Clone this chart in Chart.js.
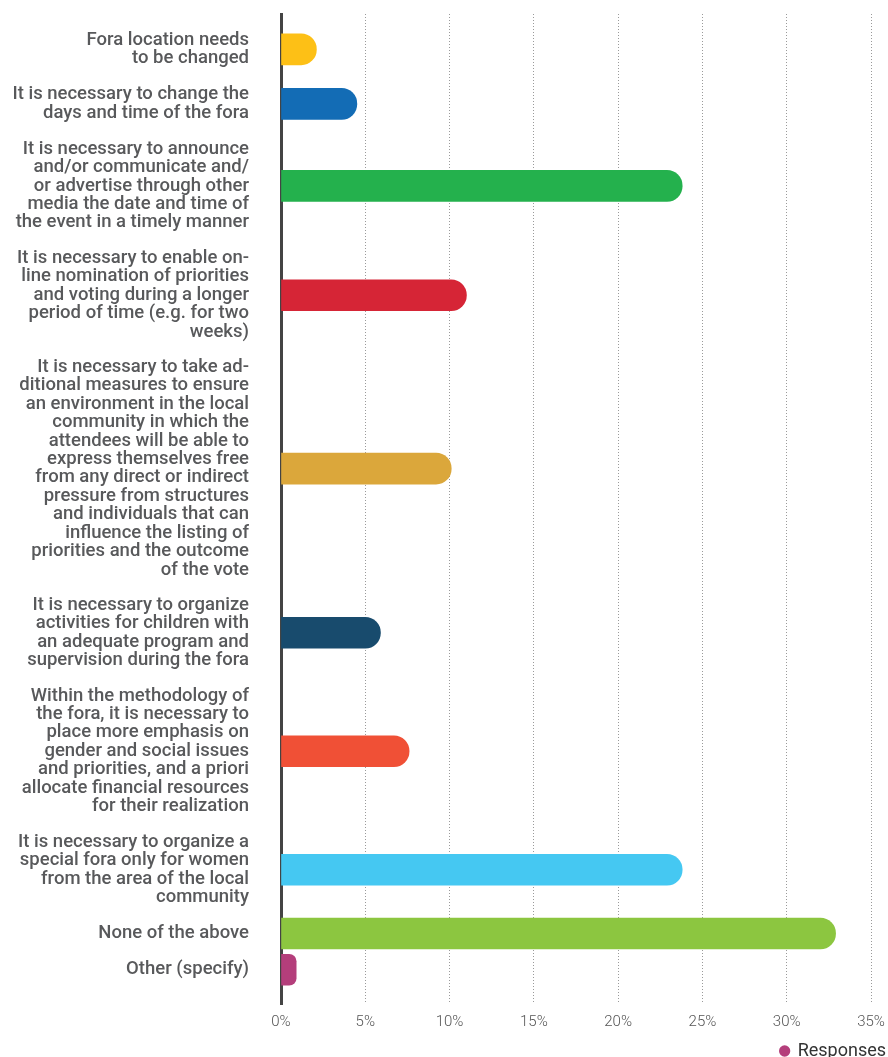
<!DOCTYPE html>
<html>
<head>
<meta charset="utf-8">
<script src="https://cdn.jsdelivr.net/npm/chart.js@4/dist/chart.umd.min.js"></script>
<style>
  html, body { margin: 0; padding: 0; background: #fff; overflow: hidden; }
  #wrap { position: relative; width: 888px; height: 1070px; }
</style>
</head>
<body>
<div id="wrap"><canvas id="c"></canvas></div>
<script>
// Answer options, one array entry per printed line
const categories = [
  ["Fora location needs", "to be changed"],
  ["It is necessary to change the", "days and time of the fora"],
  ["It is necessary to announce", "and/or communicate and/", "or advertise through other", "media the date and time of", "the event in a timely manner"],
  ["It is necessary to enable on-", "line nomination of priorities", "and voting during a longer", "period of time (e.g. for two", "weeks)"],
  ["It is necessary to take ad-", "ditional measures to ensure", "an environment in the local", "community in which the", "attendees will be able to", "express themselves free", "from any direct or indirect", "pressure from structures", "and individuals that can", "influence the listing of", "priorities and the outcome", "of the vote"],
  ["It is necessary to organize", "activities for children with", "an adequate program and", "supervision during the fora"],
  ["Within the methodology of", "the fora, it is necessary to", "place more emphasis on", "gender and social issues", "and priorities, and a priori", "allocate financial resources", "for their realization"],
  ["It is necessary to organize a", "special fora only for women", "from the area of the local", "community"],
  ["None of the above"],
  ["Other (specify)"]
];

// Share of responses, percent
const responses = [2.1, 4.5, 23.8, 11.0, 10.1, 5.9, 7.6, 23.8, 32.9, 0.9];

const barColors = ["#FDC016", "#136CB5", "#24B14D", "#D62536", "#DBA73B",
                   "#184B6D", "#F05036", "#45C8F2", "#8CC640", "#B43E7B"];

const xTicks = [0, 5, 10, 15, 20, 25, 30, 35];
const seriesName = "Responses";

// Each band is as tall as its wrapped label, so bars sit beside the label's middle
const LINE_H = 18.2;
const BAND_GAP = 18;
const bandSizes = categories.map(lines => lines.length * LINE_H + BAND_GAP);
const bandCenters = [];
let running = 0;
bandSizes.forEach(size => { bandCenters.push(running + size / 2); running += size; });
const bandTotal = running;

const points = responses.map((v, i) => ({ x: v, y: bandCenters[i] }));

new Chart(document.getElementById("c"), {
  type: "bar",
  data: {
    datasets: [{
      label: seriesName,
      data: points,
      backgroundColor: barColors,
      barThickness: 31,
      borderRadius: 16,
      borderSkipped: "start"
    }]
  },
  options: {
    indexAxis: "y",
    responsive: true,
    maintainAspectRatio: false,
    animation: false,
    layout: { padding: { top: 14, right: 0, left: 0, bottom: 0 } },
    scales: {
      x: {
        type: "linear",
        min: xTicks[0],
        max: xTicks[xTicks.length - 1],
        afterBuildTicks: s => { s.ticks = xTicks.map(v => ({ value: v })); },
        afterFit: s => { s.height = 36; s.paddingRight = 17; s.paddingLeft = 0; },
        ticks: {
          callback: v => v + "%",
          color: "#555",
          padding: 9,
          font: { family: "Roboto", size: 15, weight: 300 }
        },
        grid: { color: "#9a9a9a", lineWidth: 1, drawTicks: false },
        border: { display: false, dash: [1, 2] }
      },
      y: {
        type: "linear",
        reverse: true,
        offset: false,
        min: -8,
        max: bandTotal + 16,
        afterBuildTicks: s => { s.ticks = bandCenters.map(v => ({ value: v })); },
        afterFit: s => { s.width = 281; s.paddingTop = 0; s.paddingBottom = 0; },
        ticks: {
          autoSkip: false,
          callback: (v, i) => categories[i],
          color: "#58595B",
          padding: 24,
          font: { family: "Roboto", size: 18.5, weight: 500, lineHeight: "18.45px" }
        },
        grid: { display: false },
        border: { display: true, color: "#444", width: 3 }
      }
    },
    plugins: {
      tooltip: { enabled: false },
      legend: {
        position: "bottom",
        align: "end",
        labels: {
          usePointStyle: true,
          pointStyle: "circle",
          boxWidth: 8,
          boxHeight: 8,
          padding: 2,
          color: "#333",
          font: { family: "Roboto", size: 18, weight: 400 },
          generateLabels: chart => {
            const items = Chart.defaults.plugins.legend.labels.generateLabels(chart);
            items.forEach(it => {
              it.fillStyle = barColors[barColors.length - 1];
              it.strokeStyle = barColors[barColors.length - 1];
              it.lineWidth = 0;
            });
            return items;
          }
        }
      }
    }
  }
});
</script>
</body>
</html>
